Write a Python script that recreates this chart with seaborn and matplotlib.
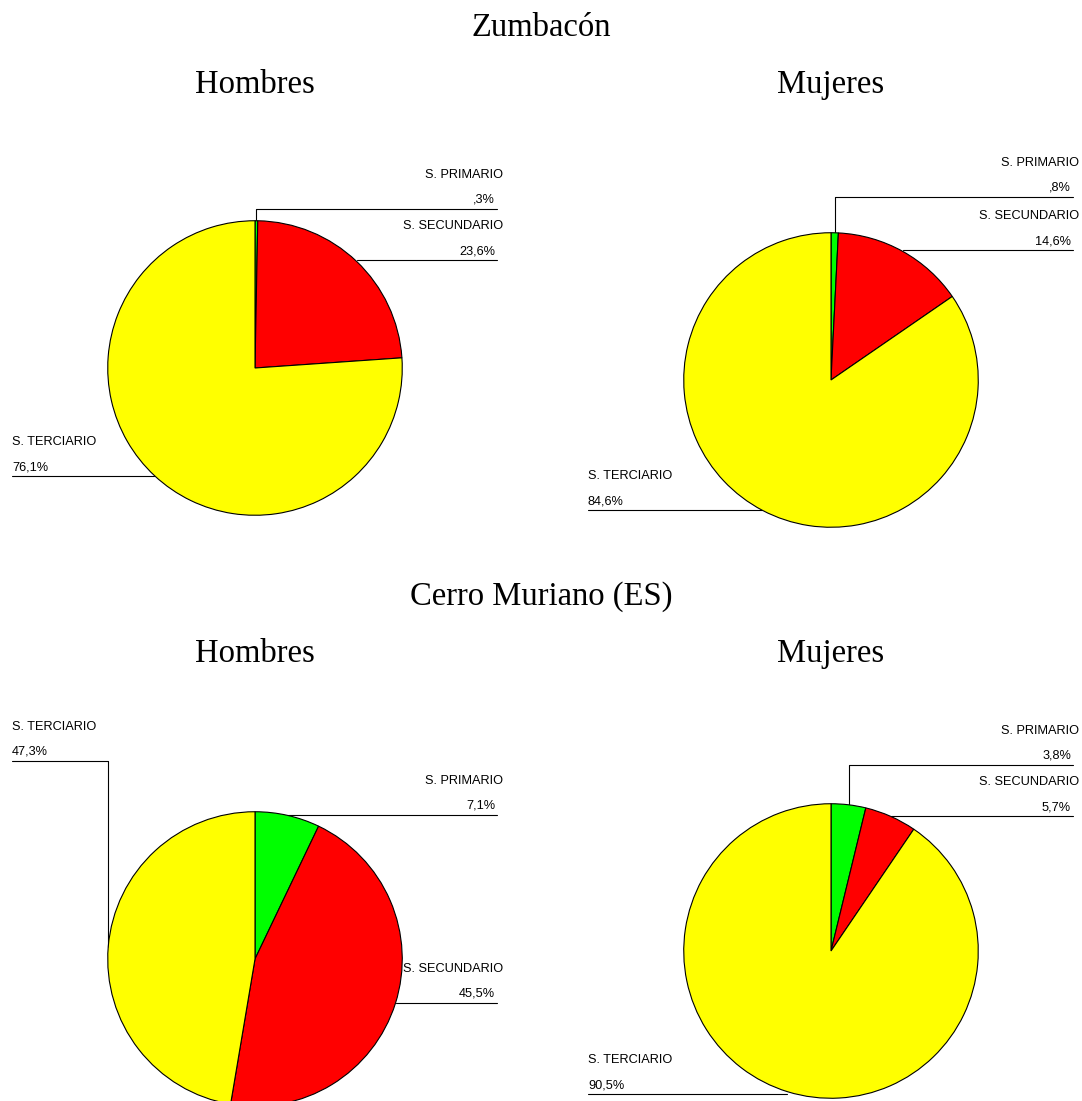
import numpy as np
import matplotlib
matplotlib.use('Agg')
import matplotlib.pyplot as plt
import seaborn as sns

# sector labels and shares (%) for each pie
sectors = ['S. PRIMARIO', 'S. SECUNDARIO', 'S. TERCIARIO']
zumbacon_hombres = [0.3, 23.6, 76.1]
zumbacon_mujeres = [0.8, 14.6, 84.6]
cerro_hombres = [7.1, 45.5, 47.3]
cerro_mujeres = [3.8, 5.7, 90.5]

places = ['Zumbacón', 'Cerro Muriano (ES)']
groups = ['Hombres', 'Mujeres']

W, H = 1082, 1101
R = 148


def fmt_pct(v):
    s = '{:.1f}'.format(v).replace('.', ',')
    if s.startswith('0'):
        s = s[1:]
    return s + '%'


def draw_pie(fig, over, values, cx, cy, label_rows):
    ax = fig.add_axes([(cx - R) / W, 1 - (cy + R) / H, 2 * R / W, 2 * R / H])
    wedges, _ = ax.pie(values, colors=palette, startangle=90, counterclock=False,
                       radius=1, wedgeprops=dict(edgecolor='black', linewidth=0.8))
    ax.set_xlim(-1.005, 1.005)
    ax.set_ylim(-1.005, 1.005)
    ax.set_aspect('equal')
    ax.axis('off')

    label_font = dict(fontsize=9.2, family='Liberation Sans', color='black', va='baseline')
    for wedge, name, value, (side, line_y) in zip(wedges, sectors, values, label_rows):
        # leader starts on the arc at the middle of the slice
        theta = np.deg2rad((wedge.theta1 + wedge.theta2) / 2)
        px = cx + R * np.cos(theta)
        py = cy - R * np.sin(theta)
        x_end = cx + 242 if side == 'right' else cx - 243
        if abs(py - line_y) > 2:
            xs, ys = [px, px, x_end], [py, line_y, line_y]
        else:
            xs, ys = [px, x_end], [line_y, line_y]
        over.plot(xs, ys, color='black', lw=0.8)
        if side == 'right':
            over.text(x_end - 2, line_y - 6, fmt_pct(value), ha='right', **label_font)
            over.text(x_end + 6, line_y - 31, name, ha='right', **label_font)
        else:
            over.text(x_end, line_y - 6, fmt_pct(value), ha='left', **label_font)
            over.text(x_end, line_y - 31, name, ha='left', **label_font)


sns.set_theme(style='white')
plt.rcParams['text.color'] = 'black'
palette = ['#00ff00', '#ff0000', '#ffff00']

fig = plt.figure(figsize=(W / 100, H / 100), dpi=100)
over = fig.add_axes([0, 0, 1, 1])
over.set_xlim(0, W)
over.set_ylim(H, 0)
over.axis('off')

title_font = dict(fontsize=23.5, family='Liberation Serif', color='black',
                  ha='center', va='baseline')
over.text(541, 36, places[0], **title_font)
over.text(255, 93, groups[0], **title_font)
over.text(831, 93, groups[1], **title_font)
over.text(541, 605, places[1], **title_font)
over.text(255, 662, groups[0], **title_font)
over.text(831, 662, groups[1], **title_font)

draw_pie(fig, over, zumbacon_hombres, 255, 368,
         [('right', 209), ('right', 260), ('left', 476)])
draw_pie(fig, over, zumbacon_mujeres, 831, 380,
         [('right', 197), ('right', 250), ('left', 510)])
draw_pie(fig, over, cerro_hombres, 255, 959,
         [('right', 815), ('right', 1003), ('left', 761)])
draw_pie(fig, over, cerro_mujeres, 831, 951,
         [('right', 765), ('right', 816), ('left', 1094)])

fig.savefig('out.png', dpi=100, facecolor='white')
